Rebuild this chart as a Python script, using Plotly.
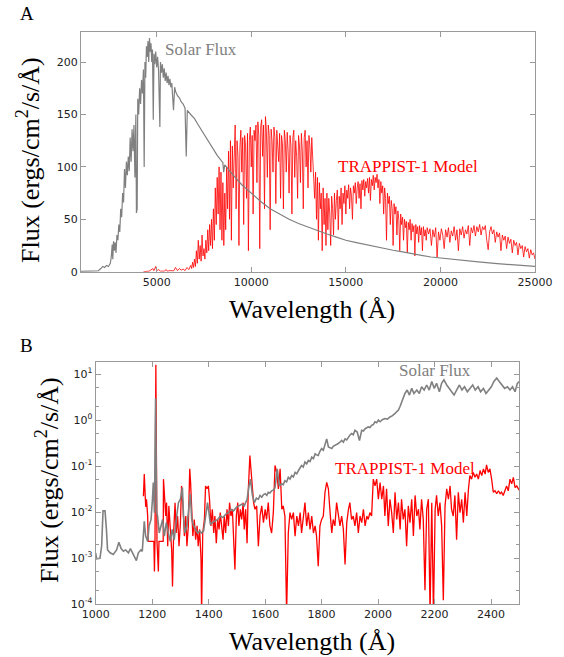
import numpy as np
import plotly.graph_objects as go

# ---------------- Panel A data (wavelength in Angstrom, flux in ergs/cm2/s/A) ----------------
solar_a = [
    (1000, 0.3), (1500, 0.4), (1900, 0.8), (2050, 3), (2150, 5), (2250, 4), (2350, 6), (2450, 5),
    (2550, 8), (2600, 14), (2650, 26), (2680, 12), (2720, 29), (2760, 20), (2800, 28), (2850, 18),
    (2900, 35), (2950, 30), (3000, 45), (3050, 38), (3100, 60), (3150, 52), (3200, 75), (3250, 66),
    (3300, 98), (3350, 80), (3400, 105), (3450, 92), (3500, 110), (3550, 96), (3600, 128), (3650, 105),
    (3700, 136), (3750, 115), (3800, 140), (3850, 90), (3900, 150), (3930, 56), (3970, 60), (4000, 165),
    (4050, 150), (4100, 175), (4150, 160), (4200, 183), (4250, 170), (4300, 193), (4340, 100), (4380, 200),
    (4420, 185), (4460, 215), (4500, 205), (4540, 220), (4580, 200), (4620, 223), (4660, 210), (4700, 218),
    (4740, 200), (4780, 212), (4820, 145), (4860, 208), (4900, 198), (4950, 210), (5000, 195), (5050, 205),
    (5100, 192), (5170, 138), (5200, 200), (5250, 190), (5300, 198), (5350, 185), (5400, 194), (5450, 182),
    (5500, 190), (5550, 180), (5600, 187), (5650, 178), (5700, 184), (5750, 176), (5800, 180), (5890, 154),
    (5950, 176), (6000, 172), (6100, 168), (6200, 166), (6300, 162), (6400, 160), (6500, 156), (6563, 110),
    (6620, 154), (6800, 150), (7000, 146), (7200, 140), (7400, 134), (7600, 129), (7800, 122), (8000, 116),
    (8200, 111), (8500, 104), (8542, 95), (8600, 102), (8800, 97), (9000, 93), (9500, 83), (10000, 75),
    (10500, 67), (11000, 60), (11500, 55), (12000, 50), (12500, 46), (13000, 42.5), (13500, 39), (14000, 36),
    (14500, 33), (15000, 30), (15500, 28), (16000, 26), (16500, 24), (17000, 22), (17500, 20.5), (18000, 19),
    (18500, 17), (19000, 15.5), (19500, 14), (20000, 13), (21000, 11), (22000, 9.3), (23000, 7.8),
    (24000, 6.3), (25000, 5),
]

trappist_a = [
    (4300, 0), (4600, 0.5), (4800, 3), (4850, 1), (4950, 5), (5000, 1), (5100, 2), (5200, 0.5), (5400, 0.5),
    (5500, 2), (5550, 0.5), (5700, 1), (5900, 0.8), (6000, 4), (6100, 1), (6200, 3), (6300, 1.5), (6400, 2.5),
    (6500, 1), (6600, 4), (6700, 2), (6800, 6), (6850, 3), (6900, 9), (6950, 4), (7000, 12), (7050, 5),
    (7100, 20), (7150, 8), (7200, 30), (7250, 12), (7300, 25), (7350, 10), (7400, 35), (7450, 15), (7500, 22),
    (7550, 12), (7600, 30), (7650, 18), (7700, 40), (7750, 20), (7800, 45), (7850, 25), (7900, 50), (7950, 22),
    (8000, 60), (8050, 30), (8100, 80), (8150, 45), (8200, 90), (8250, 55), (8300, 100), (8350, 40), (8400, 95),
    (8450, 30), (8500, 85), (8550, 25), (8600, 75), (8650, 40), (8700, 100), (8750, 60), (8800, 115), (8850, 50),
    (8900, 125), (8950, 30), (9000, 120), (9050, 80), (9100, 130), (9150, 140), (9200, 60), (9250, 125),
    (9300, 110), (9350, 25), (9400, 118), (9450, 135), (9500, 95), (9550, 128), (9600, 45), (9650, 130),
    (9700, 120), (9750, 70), (9800, 132), (9850, 20), (9900, 125), (9950, 138), (10000, 100), (10050, 130),
    (10100, 55), (10150, 135), (10200, 125), (10250, 140), (10300, 85), (10350, 143), (10400, 130), (10450, 22),
    (10500, 138), (10550, 145), (10600, 110), (10650, 140), (10700, 60), (10750, 148), (10800, 135), (10850, 90),
    (10900, 140), (10950, 130), (11000, 40), (11050, 136), (11100, 125), (11150, 95), (11200, 138), (11250, 128),
    (11300, 65), (11350, 135), (11400, 120), (11450, 105), (11500, 132), (11550, 70), (11600, 130), (11650, 122),
    (11700, 60), (11750, 135), (11800, 125), (11850, 95), (11900, 133), (11950, 115), (12000, 75), (12050, 130),
    (12100, 120), (12150, 55), (12200, 128), (12250, 135), (12300, 90), (12350, 125), (12400, 110), (12450, 70),
    (12500, 130), (12550, 120), (12600, 85), (12650, 132), (12700, 115), (12750, 60), (12800, 128), (12850, 135),
    (12900, 100), (12950, 125), (13000, 80), (13050, 130), (13100, 120), (13150, 95), (13200, 128), (13250, 110),
    (13300, 100), (13350, 70), (13400, 95), (13450, 50), (13500, 90), (13550, 30), (13600, 85), (13650, 60),
    (13700, 75), (13750, 20), (13800, 80), (13850, 45), (13900, 70), (13950, 25), (14000, 75), (14050, 40),
    (14100, 70), (14150, 55), (14200, 25), (14250, 72), (14300, 60), (14350, 35), (14400, 75), (14450, 50),
    (14500, 68), (14550, 78), (14600, 40), (14650, 72), (14700, 60), (14750, 80), (14800, 45), (14850, 75),
    (14900, 65), (14950, 82), (15000, 55), (15050, 78), (15100, 70), (15150, 83), (15200, 60), (15250, 80),
    (15300, 72), (15350, 50), (15400, 82), (15450, 75), (15500, 85), (15550, 65), (15600, 80), (15650, 86),
    (15700, 70), (15750, 84), (15800, 60), (15850, 87), (15900, 78), (15950, 88), (16000, 72), (16050, 86),
    (16100, 80), (16150, 89), (16200, 75), (16250, 90), (16300, 68), (16350, 88), (16400, 82), (16450, 92),
    (16500, 78), (16550, 90), (16600, 85), (16650, 93), (16700, 80), (16750, 88), (16800, 65), (16850, 86),
    (16900, 75), (16950, 82), (17000, 55), (17050, 80), (17100, 70), (17150, 30), (17200, 75), (17250, 65),
    (17300, 72), (17350, 45), (17400, 68), (17450, 60), (17500, 25), (17550, 65), (17600, 55), (17650, 62),
    (17700, 35), (17750, 58), (17800, 50), (17850, 20), (17900, 55), (17950, 45), (18000, 52), (18050, 30),
    (18100, 50), (18150, 42), (18200, 48), (18250, 18), (18300, 47), (18350, 40), (18400, 50), (18450, 30),
    (18500, 46), (18550, 38), (18600, 44), (18650, 15), (18700, 45), (18750, 36), (18800, 43), (18850, 28),
    (18900, 44), (18950, 35), (19000, 42), (19050, 20), (19100, 43), (19150, 34), (19200, 40), (19250, 30),
    (19300, 42), (19375, 36), (19450, 41), (19525, 25), (19600, 40), (19675, 33), (19750, 42), (19825, 14),
    (19900, 38), (19975, 30), (20050, 41), (20125, 35), (20200, 22), (20275, 40), (20350, 33), (20425, 42),
    (20500, 28), (20575, 39), (20650, 34), (20725, 43), (20800, 30), (20875, 40), (20950, 20), (21025, 41),
    (21100, 35), (21175, 43), (21250, 32), (21325, 40), (21400, 36), (21475, 44), (21550, 25), (21625, 42),
    (21700, 37), (21775, 44), (21850, 34), (21925, 43), (22000, 38), (22075, 45), (22150, 35), (22225, 43),
    (22300, 40), (22375, 44), (22450, 30), (22525, 21), (22600, 38), (22675, 43), (22750, 36), (22825, 40),
    (22900, 28), (22975, 38), (23050, 33), (23125, 37), (23200, 20), (23275, 35), (23350, 30), (23425, 34),
    (23500, 22), (23575, 33), (23650, 27), (23725, 31), (23800, 18), (23875, 30), (23950, 25), (24025, 28),
    (24100, 16), (24175, 27), (24250, 22), (24325, 25), (24400, 14), (24475, 24), (24550, 19), (24625, 22),
    (24700, 13), (24775, 21), (24850, 16), (24925, 18), (25000, 12),
]

# ---------------- Panel B data ----------------
solar_b = [
    (1000, 0.0013), (1003, 0.00096), (1015, 0.00099), (1021, 0.0018), (1026, 0.0106), (1033, 0.0106),
    (1038, 0.0042), (1042, 0.0015), (1051, 0.0013), (1062, 0.0012), (1074, 0.0015), (1082, 0.0022),
    (1090, 0.0016), (1098, 0.0014), (1106, 0.0015), (1116, 0.0013), (1123, 0.0016), (1130, 0.0013),
    (1137, 0.0011), (1144, 0.00088), (1151, 0.0013), (1160, 0.0015), (1165, 0.0014), (1172, 0.0063),
    (1177, 0.0030), (1184, 0.0023), (1189, 0.0050), (1196, 0.0069), (1201, 0.019), (1204, 0.044),
    (1208, 0.0097), (1212, 3.0), (1216, 0.0097), (1219, 0.0082), (1225, 0.0035), (1231, 0.0050),
    (1237, 0.0069), (1243, 0.0030), (1250, 0.0059), (1257, 0.0035), (1264, 0.0023), (1271, 0.0042),
    (1278, 0.0025), (1287, 0.0082), (1293, 0.016), (1300, 0.019), (1307, 0.034), (1311, 0.0082),
    (1316, 0.0035), (1323, 0.0050), (1330, 0.0115), (1335, 0.025), (1340, 0.0069), (1347, 0.0050),
    (1354, 0.0042), (1361, 0.0035), (1368, 0.0039), (1375, 0.0035), (1382, 0.0039), (1389, 0.0082),
    (1396, 0.016), (1401, 0.0097), (1406, 0.0054), (1413, 0.0059), (1422, 0.0063), (1432, 0.0069),
    (1441, 0.0082), (1451, 0.0076), (1460, 0.0089), (1470, 0.0097), (1479, 0.0115), (1488, 0.0106),
    (1498, 0.0126), (1507, 0.0136), (1517, 0.0148), (1526, 0.0136), (1536, 0.019), (1543, 0.037),
    (1548, 0.052), (1555, 0.023), (1562, 0.016), (1569, 0.020), (1576, 0.019), (1582, 0.023),
    (1588, 0.021), (1594, 0.024), (1600, 0.025), (1606, 0.023), (1611, 0.027), (1617, 0.026),
    (1623, 0.029), (1629, 0.030), (1635, 0.034), (1643, 0.087), (1650, 0.037), (1659, 0.041),
    (1664, 0.039), (1670, 0.048), (1676, 0.045), (1682, 0.057), (1688, 0.052), (1694, 0.062),
    (1700, 0.058), (1706, 0.073), (1712, 0.068), (1718, 0.080), (1724, 0.090), (1729, 0.103),
    (1735, 0.095), (1741, 0.122), (1747, 0.112), (1753, 0.132), (1759, 0.125), (1765, 0.156),
    (1771, 0.145), (1777, 0.185), (1782, 0.175), (1788, 0.17), (1794, 0.21), (1800, 0.24),
    (1806, 0.22), (1812, 0.28), (1818, 0.39), (1824, 0.26), (1830, 0.25), (1836, 0.24),
    (1841, 0.27), (1847, 0.28), (1853, 0.30), (1859, 0.31), (1865, 0.33), (1871, 0.36),
    (1877, 0.33), (1883, 0.39), (1889, 0.37), (1895, 0.43), (1900, 0.47), (1906, 0.51),
    (1912, 0.48), (1918, 0.60), (1926, 0.55), (1934, 0.36), (1942, 0.60), (1948, 0.58),
    (1954, 0.65), (1960, 0.68), (1965, 0.71), (1971, 0.69), (1977, 0.77), (1983, 0.80),
    (1989, 0.92), (1995, 0.88), (2001, 1.0), (2007, 0.92), (2015, 1.02), (2024, 1.08),
    (2033, 1.05), (2042, 1.17), (2051, 1.25), (2060, 1.40), (2066, 1.50), (2072, 1.65),
    (2078, 2.0), (2083, 2.5), (2089, 3.1), (2095, 3.8), (2103, 4.5), (2111, 3.5), (2119, 4.9),
    (2127, 3.8), (2137, 4.5), (2146, 3.8), (2154, 5.3), (2163, 4.5), (2172, 5.8), (2181, 4.5),
    (2190, 6.9), (2199, 4.9), (2207, 6.3), (2217, 4.14), (2225, 6.3), (2233, 7.5), (2243, 5.8),
    (2252, 4.9), (2260, 4.14), (2269, 3.5), (2278, 4.5), (2288, 5.8), (2297, 4.5), (2306, 5.3),
    (2316, 4.14), (2325, 4.9), (2335, 5.8), (2344, 4.5), (2354, 5.3), (2363, 4.14), (2373, 4.9),
    (2382, 3.8), (2391, 4.5), (2401, 5.3), (2410, 6.9), (2420, 8.2), (2429, 6.9), (2439, 5.8),
    (2448, 4.9), (2458, 5.3), (2467, 4.5), (2476, 5.3), (2485, 4.14), (2493, 6.3), (2500, 6.9),
]

trappist_b = [
    (1169, 0.022), (1172, 0.067), (1177, 0.0130), (1180, 0.019), (1184, 0.0082), (1186, 0.0023),
    (1196, 0.0023), (1206, 0.0023), (1208, 0.00051), (1210, 0.0023), (1213, 16), (1217, 0.0023),
    (1222, 0.00051), (1224, 0.0023), (1232, 0.0023), (1239, 0.0023), (1240, 0.052), (1243, 0.027),
    (1248, 0.0082), (1251, 0.016), (1255, 0.0018), (1259, 0.0136), (1264, 0.0042), (1269, 0.0015),
    (1272, 0.00024), (1276, 0.0035), (1281, 0.016), (1285, 0.0035), (1290, 0.0082), (1295, 0.0018),
    (1300, 0.0059), (1304, 0.037), (1309, 0.0136), (1314, 0.0030), (1319, 0.0082), (1323, 0.0018),
    (1328, 0.0050), (1333, 0.087), (1336, 0.044), (1340, 0.0097), (1344, 0.0030), (1349, 0.0069),
    (1354, 0.0025), (1359, 0.0050), (1363, 0.0018), (1368, 0.0042), (1373, 0.00092), (1375, 0.00006),
    (1379, 0.0035), (1385, 0.0069), (1389, 0.037), (1394, 0.032), (1399, 0.037), (1403, 0.019),
    (1408, 0.0050), (1413, 0.0115), (1418, 0.0035), (1422, 0.0082), (1427, 0.0021), (1432, 0.0069),
    (1437, 0.0042), (1441, 0.0097), (1446, 0.0050), (1451, 0.0025), (1455, 0.0082), (1460, 0.0035),
    (1465, 0.0115), (1470, 0.0050), (1474, 0.016), (1479, 0.0082), (1484, 0.0115), (1488, 0.0035),
    (1493, 0.00056), (1498, 0.0082), (1503, 0.016), (1507, 0.0050), (1512, 0.0115), (1517, 0.0069),
    (1522, 0.016), (1526, 0.0042), (1531, 0.0115), (1536, 0.0021), (1540, 0.027), (1546, 0.17),
    (1552, 0.067), (1556, 0.037), (1559, 0.016), (1564, 0.0115), (1570, 0.0136), (1576, 0.0018),
    (1582, 0.0082), (1588, 0.0136), (1594, 0.0059), (1600, 0.0115), (1605, 0.0069), (1611, 0.016),
    (1617, 0.0050), (1623, 0.0035), (1629, 0.0097), (1635, 0.103), (1641, 0.073), (1647, 0.032),
    (1653, 0.087), (1659, 0.0115), (1664, 0.0136), (1670, 0.0082), (1676, 0.00006), (1682, 0.0035),
    (1688, 0.0097), (1694, 0.0069), (1700, 0.0097), (1706, 0.0030), (1712, 0.0082), (1718, 0.0050),
    (1724, 0.0097), (1729, 0.0035), (1735, 0.0069), (1741, 0.016), (1747, 0.0050), (1753, 0.0097),
    (1759, 0.0042), (1765, 0.0082), (1771, 0.0035), (1777, 0.0050), (1782, 0.0030), (1788, 0.00066),
    (1794, 0.0050), (1800, 0.0069), (1806, 0.0082), (1812, 0.027), (1818, 0.044), (1824, 0.032),
    (1830, 0.0097), (1836, 0.0035), (1841, 0.0069), (1847, 0.0050), (1853, 0.016), (1859, 0.0097),
    (1865, 0.0050), (1871, 0.0082), (1877, 0.0042), (1883, 0.00072), (1889, 0.0059), (1895, 0.0115),
    (1900, 0.016), (1906, 0.0069), (1912, 0.0082), (1918, 0.0050), (1924, 0.0097), (1930, 0.0035),
    (1936, 0.0082), (1942, 0.0059), (1948, 0.0115), (1954, 0.0050), (1960, 0.0082), (1965, 0.0069),
    (1971, 0.0097), (1977, 0.0082), (1983, 0.052), (1989, 0.037), (1995, 0.052), (2001, 0.019),
    (2007, 0.044), (2013, 0.019), (2019, 0.037), (2024, 0.0082), (2030, 0.032), (2036, 0.0050),
    (2042, 0.019), (2048, 0.0097), (2054, 0.0035), (2060, 0.027), (2066, 0.0069), (2072, 0.016),
    (2078, 0.0042), (2083, 0.019), (2089, 0.0069), (2095, 0.0115), (2101, 0.0018), (2107, 0.0136),
    (2113, 0.0059), (2119, 0.019), (2125, 0.0030), (2131, 0.023), (2137, 0.0082), (2143, 0.0115),
    (2148, 0.0042), (2154, 0.019), (2160, 0.0069), (2166, 0.00020), (2172, 0.0115), (2178, 0.019),
    (2184, 0.00006), (2190, 0.016), (2196, 0.00006), (2202, 0.0115), (2207, 0.023), (2213, 0.0082),
    (2219, 0.016), (2225, 0.0050), (2231, 0.00012), (2237, 0.0136), (2243, 0.032), (2249, 0.019),
    (2255, 0.037), (2260, 0.0115), (2266, 0.0082), (2272, 0.023), (2278, 0.0025), (2284, 0.027),
    (2290, 0.0097), (2296, 0.019), (2302, 0.0059), (2308, 0.027), (2314, 0.0082), (2320, 0.032),
    (2325, 0.062), (2331, 0.052), (2337, 0.073), (2343, 0.057), (2349, 0.067), (2355, 0.052),
    (2361, 0.080), (2367, 0.062), (2373, 0.087), (2379, 0.067), (2384, 0.106), (2390, 0.073),
    (2396, 0.087), (2402, 0.052), (2408, 0.027), (2414, 0.029), (2420, 0.025), (2426, 0.029),
    (2432, 0.025), (2437, 0.027), (2443, 0.023), (2449, 0.029), (2455, 0.037), (2461, 0.029),
    (2467, 0.052), (2473, 0.041), (2479, 0.057), (2485, 0.034), (2491, 0.037), (2497, 0.032),
    (2500, 0.030),
]

ticks_a_x = [5000, 10000, 15000, 20000, 25000]
ticks_a_y = [0, 50, 100, 150, 200]
ticks_b_x = [1000, 1200, 1400, 1600, 1800, 2000, 2200, 2400]
ticks_b_y = [1e-4, 1e-3, 1e-2, 1e-1, 1e0, 1e1]
ticks_b_y_text = ["10<sup>-4</sup>", "10<sup>-3</sup>", "10<sup>-2</sup>", "10<sup>-1</sup>",
                  "10<sup>0</sup>", "10<sup>1</sup>"]
minor_b_y = [m * d for d in ticks_b_y for m in (2, 5)]

W, H = 564, 657
GREY = "#808080"
RED = "#ff0000"
SERIF = "Liberation Serif, Times New Roman, serif"
SANS = "DejaVu Sans, sans-serif"


def unzip(pairs):
    return [p[0] for p in pairs], [p[1] for p in pairs]


fig = go.Figure()
wl, fl = unzip(trappist_a)
fig.add_trace(go.Scatter(x=wl, y=fl, mode="lines", line=dict(color=RED, width=0.8),
                         xaxis="x", yaxis="y", showlegend=False))
wl, fl = unzip(solar_a)
fig.add_trace(go.Scatter(x=wl, y=fl, mode="lines", line=dict(color=GREY, width=1.2),
                         xaxis="x", yaxis="y", showlegend=False))
wl, fl = unzip(trappist_b)
fig.add_trace(go.Scatter(x=wl, y=fl, mode="lines", line=dict(color=RED, width=1.3),
                         xaxis="x2", yaxis="y2", showlegend=False))
wl, fl = unzip(solar_b)
fig.add_trace(go.Scatter(x=wl, y=fl, mode="lines", line=dict(color=GREY, width=1.6),
                         xaxis="x2", yaxis="y2", showlegend=False))

axis_common = dict(showline=True, linecolor="#999999", linewidth=1, mirror="ticks",
                   ticks="inside", ticklen=5, tickcolor="#999999", showgrid=False,
                   zeroline=False, automargin=False,
                   tickfont=dict(family=SANS, size=11, color="#222222"))

fig.update_layout(
    width=W, height=H, margin=dict(l=0, r=0, t=0, b=0),
    paper_bgcolor="white", plot_bgcolor="white",
    xaxis=dict(axis_common, domain=[81 / W, 535 / W], range=[1000, 25000],
               tickvals=ticks_a_x, ticktext=[str(v) for v in ticks_a_x], anchor="y"),
    yaxis=dict(axis_common, domain=[1 - 271.7 / H, 1 - 31.7 / H], range=[0, 229],
               tickvals=ticks_a_y, ticktext=[str(v) for v in ticks_a_y], anchor="x"),
    xaxis2=dict(axis_common, domain=[95.7 / W, 519.3 / W], range=[1000, 2500],
                tickvals=ticks_b_x, ticktext=[str(v) for v in ticks_b_x], anchor="y2"),
    yaxis2=dict(axis_common, type="log", domain=[1 - 604 / H, 1 - 361.7 / H],
                range=[-4, 1.27], tickvals=ticks_b_y, ticktext=ticks_b_y_text, anchor="x2",
                minor=dict(ticks="inside", ticklen=3, tickcolor="#999999", showgrid=False,
                           tickvals=minor_b_y)),
)

ann = []
# panel letters
ann.append(dict(text="A", x=18 / W, y=1 - 13 / H, xref="paper", yref="paper", showarrow=False,
                xanchor="left", yanchor="middle", font=dict(family=SERIF, size=19, color="black")))
ann.append(dict(text="B", x=18 / W, y=1 - 345 / H, xref="paper", yref="paper", showarrow=False,
                xanchor="left", yanchor="middle", font=dict(family=SERIF, size=19, color="black")))
# axis titles
xtitle = "Wavelength (Å)"
ytitle = "Flux (ergs/cm<sup>2</sup>/s/Å)"
ann.append(dict(text=xtitle, x=312 / W, y=1 - 309 / H, xref="paper", yref="paper", showarrow=False,
                xanchor="center", yanchor="middle", font=dict(family=SERIF, size=26, color="black")))
ann.append(dict(text=ytitle, x=28 / W, y=1 - 160 / H, xref="paper", yref="paper", showarrow=False,
                textangle=-90, xanchor="center", yanchor="middle",
                font=dict(family=SERIF, size=26, color="black")))
ann.append(dict(text=xtitle, x=312 / W, y=1 - 641 / H, xref="paper", yref="paper", showarrow=False,
                xanchor="center", yanchor="middle", font=dict(family=SERIF, size=26, color="black")))
ann.append(dict(text=ytitle, x=47 / W, y=1 - 480 / H, xref="paper", yref="paper", showarrow=False,
                textangle=-90, xanchor="center", yanchor="middle",
                font=dict(family=SERIF, size=26, color="black")))
# series labels
ann.append(dict(text="Solar Flux", x=5330, y=212, xref="x", yref="y", showarrow=False,
                xanchor="left", yanchor="middle", font=dict(family=SERIF, size=17, color=GREY)))
ann.append(dict(text="TRAPPIST-1 Model", x=14480, y=100, xref="x", yref="y", showarrow=False,
                xanchor="left", yanchor="middle", font=dict(family=SERIF, size=17, color=RED)))
ann.append(dict(text="Solar Flux", x=2067, y=np.log10(11.8), xref="x2", yref="y2", showarrow=False,
                xanchor="left", yanchor="middle", font=dict(family=SERIF, size=17, color=GREY)))
ann.append(dict(text="TRAPPIST-1 Model", x=1839, y=np.log10(0.087), xref="x2", yref="y2",
                showarrow=False, xanchor="left", yanchor="middle",
                font=dict(family=SERIF, size=17, color=RED)))
fig.update_layout(annotations=ann)

fig.write_html("out.html", config={"displayModeBar": False},
               post_script="document.body.style.margin='0';")
